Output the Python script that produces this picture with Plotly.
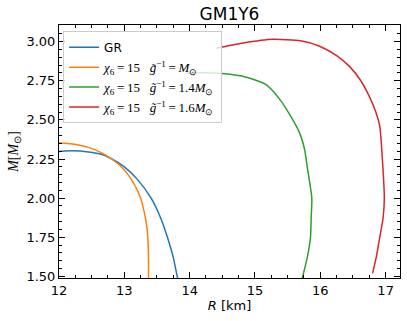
import plotly.graph_objects as go

# mass-radius curves
gr_r = [11.8, 12.0, 12.2, 12.45, 12.65, 12.81, 13.0, 13.2, 13.41, 13.55, 13.66, 13.75, 13.81, 13.83]
gr_m = [2.285, 2.298, 2.302, 2.295, 2.28, 2.25, 2.20, 2.12, 2.00, 1.88, 1.75, 1.62, 1.50, 1.47]

o1_r = [11.8, 12.0, 12.3, 12.55, 12.81, 13.0, 13.15, 13.25, 13.30, 13.34, 13.36, 13.37, 13.37]
o1_m = [2.35, 2.352, 2.34, 2.31, 2.25, 2.18, 2.09, 2.00, 1.92, 1.83, 1.75, 1.60, 1.47]

g14_r = [13.94, 14.35, 14.8, 15.17, 15.40, 15.53, 15.68, 15.76, 15.80, 15.87, 15.86, 15.85, 15.80, 15.73, 15.71]
g14_m = [2.80, 2.80, 2.78, 2.725, 2.62, 2.535, 2.42, 2.31, 2.20, 2.00, 1.87, 1.75, 1.62, 1.50, 1.47]

g16_r = [14.40, 14.8, 15.27, 15.70, 15.99, 16.25, 16.45, 16.62, 16.75, 16.85, 16.91, 16.95, 16.98, 16.96, 16.91, 16.86, 16.80]
g16_m = [2.958, 2.99, 3.015, 3.005, 2.97, 2.91, 2.84, 2.75, 2.65, 2.55, 2.46, 2.25, 2.00, 1.87, 1.75, 1.63, 1.52]

names = ["<span style=\"font-family:'DejaVu Sans';font-size:12px\">GR</span>",
         "<i>χ</i><sub>6</sub>\u2009=\u200915   <i>g̃</i><sup>−1</sup>\u2009=\u2009<i>M</i><sub>⊙</sub>",
         "<i>χ</i><sub>6</sub>\u2009=\u200915   <i>g̃</i><sup>−1</sup>\u2009=\u20091.4<i>M</i><sub>⊙</sub>",
         "<i>χ</i><sub>6</sub>\u2009=\u200915   <i>g̃</i><sup>−1</sup>\u2009=\u20091.6<i>M</i><sub>⊙</sub>"]
colors = ["#1f77b4", "#ff7f0e", "#2ca02c", "#d62728"]

fig = go.Figure()
for r, m, name, c in zip([gr_r, o1_r, g14_r, g16_r], [gr_m, o1_m, g14_m, g16_m], names, colors):
    fig.add_trace(go.Scatter(x=r, y=m, mode="lines", name=name,
                             line=dict(color=c, width=1.5, shape="spline", smoothing=0.6)))

axis_style = dict(showline=True, linecolor="black", linewidth=1, mirror="allticks",
                  ticks="inside", ticklen=6, tickwidth=1, tickcolor="black",
                  showgrid=False, zeroline=False, automargin=False,
                  tickfont=dict(family="DejaVu Sans", size=13, color="black"))

fig.update_layout(
    width=407, height=321,
    margin=dict(l=59, r=7, t=25, b=43),
    paper_bgcolor="white", plot_bgcolor="white",
    title=dict(text="GM1Y6", x=0.5, xref="paper", xanchor="center", y=0.955, yanchor="middle",
               font=dict(family="DejaVu Sans", size=17, color="black")),
    xaxis=dict(range=[12.0, 17.22], dtick=1, tick0=12,
               minor=dict(ticks="inside", ticklen=3, tickcolor="black", dtick=0.25, showgrid=False),
               title=dict(text="<i>R</i> [km]", standoff=2,
                          font=dict(family="DejaVu Sans", size=13, color="black")),
               **axis_style),
    yaxis=dict(range=[1.49, 3.106], dtick=0.25, tick0=1.5, tickformat=".2f",
               minor=dict(ticks="inside", ticklen=3, tickcolor="black", dtick=0.05, showgrid=False),
               title=dict(text="<i>M</i>[<i>M</i><sub>⊙</sub>]", standoff=4,
                          font=dict(family="Liberation Serif", size=14, color="black")),
               **axis_style),
    legend=dict(x=0.012, y=0.975, xanchor="left", yanchor="top",
                bgcolor="rgba(255,255,255,0.8)", bordercolor="#cccccc", borderwidth=1,
                font=dict(family="Liberation Serif", size=13, color="black"),
                itemwidth=30),
    showlegend=True,
)

fig.write_html("out.html", config={"displayModeBar": False},
               post_script="document.body.style.margin='0px';")
